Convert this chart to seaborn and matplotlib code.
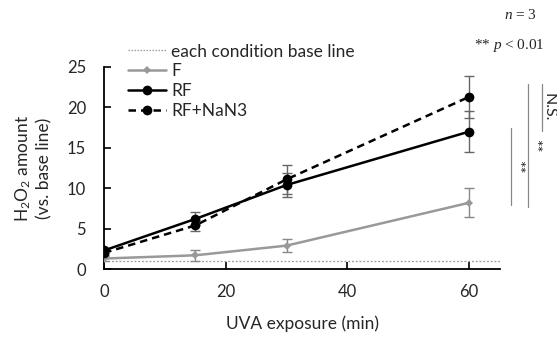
import numpy as np
import pandas as pd
import seaborn as sns
import matplotlib
matplotlib.use("Agg")
import matplotlib.pyplot as plt
from matplotlib.lines import Line2D

# data
time_min = [0, 15, 30, 60]
f_mean = [1.3, 1.7, 2.9, 8.2]
f_err = [0.3, 0.7, 0.8, 1.8]
rf_mean = [2.3, 6.2, 10.4, 17.0]
rf_err = [0.3, 0.8, 1.5, 2.5]
nan3_mean = [2.0, 5.4, 11.1, 21.3]
nan3_err = [0.3, 0.7, 1.8, 2.6]
base_line = 1.0
series_names = ["F", "RF", "RF+NaN3"]

sns.set_theme(style="ticks")
plt.rcParams["font.family"] = ["Lato", "DejaVu Sans"]
plt.rcParams["mathtext.fontset"] = "custom"
plt.rcParams["mathtext.rm"] = "Lato"
plt.rcParams["mathtext.it"] = "Liberation Serif:italic"
plt.rcParams["mathtext.default"] = "regular"

df = pd.DataFrame({
    "time": time_min * 3,
    "value": f_mean + rf_mean + nan3_mean,
    "cond": [s for s in series_names for _ in time_min],
})

fig = plt.figure(figsize=(5.57, 3.38), dpi=100)
ax = fig.add_axes([0.187, 0.204, 0.711, 0.598])

colors = {"F": "#999999", "RF": "black", "RF+NaN3": "black"}
sns.lineplot(data=df, x="time", y="value", hue="cond", style="cond",
             palette=colors, dashes={"F": "", "RF": "", "RF+NaN3": (3, 2)},
             markers={"F": "D", "RF": "o", "RF+NaN3": "o"},
             markersize=7, linewidth=1.8, markeredgewidth=0, ax=ax,
             legend=False, zorder=3)
# F markers are smaller diamonds
for ln in ax.lines:
    if ln.get_color() == "#999999":
        ln.set_markersize(4.5)

ax.errorbar(time_min, f_mean, yerr=f_err, fmt="none", ecolor="#888888",
            elinewidth=1, capsize=3.5, capthick=1, zorder=2)
ax.errorbar(time_min, rf_mean, yerr=rf_err, fmt="none", ecolor="#666666",
            elinewidth=1, capsize=3.5, capthick=1, zorder=2)
ax.errorbar(time_min, nan3_mean, yerr=nan3_err, fmt="none", ecolor="#666666",
            elinewidth=1, capsize=3.5, capthick=1, zorder=2)

ax.axhline(base_line, color="#999999", linestyle=(0, (1.5, 1.5)), linewidth=0.9, zorder=1)

ax.set_xlim(0, 65.1)
ax.set_ylim(0, 25)
ax.set_xticks([0, 20, 40, 60])
ax.set_yticks([0, 5, 10, 15, 20, 25])
ax.tick_params(direction="in", length=5, width=1.2, labelsize=12, color="black")
ax.tick_params(axis="y", pad=13)
ax.tick_params(axis="x", pad=11)
sns.despine(ax=ax)
for sp in ["left", "bottom"]:
    ax.spines[sp].set_linewidth(1.3)
    ax.spines[sp].set_color("black")

ax.set_xlabel("UVA exposure (min)", fontsize=12.5, labelpad=11)
ax.set_ylabel("H$_2$O$_2$ amount\n(vs. base line)", fontsize=12.5, linespacing=1.3,
              va="center")
ax.yaxis.set_label_coords(-0.18, 0.5)

handles = [
    Line2D([], [], color="#999999", linestyle=(0, (1.2, 1.2)), linewidth=0.9),
    Line2D([], [], color="#999999", marker="D", markersize=4.5, linewidth=1.8, markeredgewidth=0),
    Line2D([], [], color="black", marker="o", markersize=7, linewidth=1.8, markeredgewidth=0),
    Line2D([], [], color="black", marker="o", markersize=7, linewidth=1.8, markeredgewidth=0,
           linestyle=(0, (3, 2))),
]
labels = ["each condition base line"] + series_names
ax.legend(handles, labels, loc="upper left", bbox_to_anchor=(0.042, 1.15),
          frameon=False, fontsize=12.5, handlelength=2.2, handletextpad=0.3,
          labelspacing=0.22, borderaxespad=0)

# significance brackets outside the axes
brackets = [(66.9, 17.5, 7.9, "**"), (69.6, 22.9, 7.7, "**"), (72.0, 22.9, 17.1, "N.S.")]
for x, y1, y2, txt in brackets:
    ax.plot([x, x], [y1, y2], color="#888888", linewidth=0.9, clip_on=False)
    ax.text(x + 1.0, (y1 + y2) / 2, txt, rotation=-90, ha="center", va="center",
            fontsize=11.5, clip_on=False)

fig.text(537 / 557, 1 - 15 / 338, "$\\it{n}$ = 3", ha="right", va="center",
         fontsize=11, family="Liberation Serif")
fig.text(545 / 557, 1 - 45 / 338, "** $\\it{p}$ < 0.01", ha="right", va="center",
         fontsize=11, family="Liberation Serif")

fig.savefig("out.png", dpi=100)
